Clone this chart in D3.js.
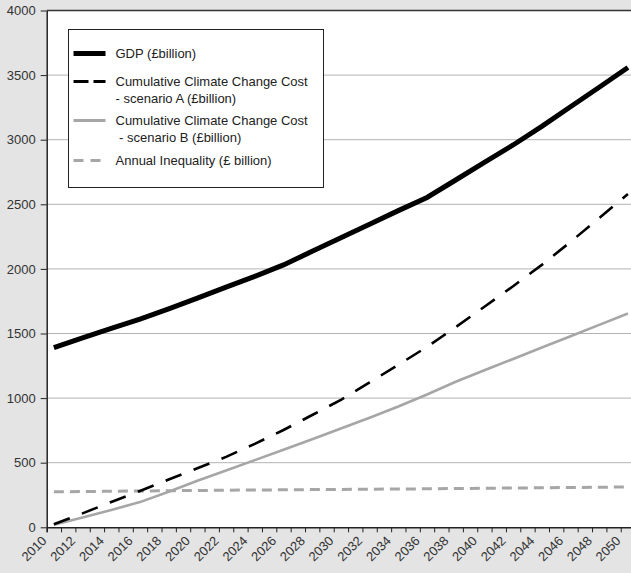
<!DOCTYPE html>
<html>
<head>
<meta charset="utf-8">
<script src="https://cdn.jsdelivr.net/npm/d3@7"></script>
<style>
  body { margin: 0; background: #e3e4e3; }
  svg { display: block; font-family: "Liberation Sans", Arial, Helvetica, sans-serif; }
  .axis text { fill: #333; font-size: 13px; }
  .axis path, .axis line { stroke: #222; }
</style>
</head>
<body>
<svg id="chart"></svg>
<script>
// values, every second year
const years = [2010, 2012, 2014, 2016, 2018, 2020, 2022, 2024, 2026, 2028, 2030,
               2032, 2034, 2036, 2038, 2040, 2042, 2044, 2046, 2048, 2050];
const gdp = [1390, 1467, 1539, 1611, 1690, 1774, 1859, 1942, 2031, 2136, 2241,
             2346, 2451, 2553, 2688, 2824, 2959, 3103, 3255, 3406, 3559];
const costA = [23, 108, 196, 281, 370, 457, 545, 646, 753, 869, 987,
               1121, 1258, 1396, 1549, 1707, 1866, 2031, 2209, 2394, 2580];
const costB = [20, 76, 134, 195, 275, 360, 440, 520, 600, 682, 765,
               848, 935, 1028, 1127, 1215, 1303, 1391, 1479, 1567, 1655];
const inequality = [275, 277, 279, 281, 283, 285, 287, 289, 290, 292, 293,
                    295, 296, 298, 300, 302, 304, 306, 308, 310, 312];
const yTicks = [0, 500, 1000, 1500, 2000, 2500, 3000, 3500, 4000];
const legendLabels = [
  ['GDP (£billion)'],
  ['Cumulative Climate Change Cost', '- scenario A (£billion)'],
  ['Cumulative Climate Change Cost', ' - scenario B (£billion)'],
  ['Annual Inequality (£ billion)']
];

const W = 631, H = 573;
const svg = d3.select('#chart').attr('width', W).attr('height', H);

const plotLeft = 46.7, plotTop = 10.5, plotBottom = 527.3;

// one band per year, points sit in the middle of the band
const x = d3.scaleLinear().domain([2010, 2051]).range([plotLeft, 635.1]);
const y = d3.scaleLinear().domain([0, 4000]).range([plotBottom, plotTop]);

// white plot area
svg.append('rect')
  .attr('x', plotLeft).attr('y', plotTop)
  .attr('width', W - plotLeft).attr('height', plotBottom - plotTop)
  .attr('fill', '#fff');

// gridlines
svg.append('g')
  .selectAll('line')
  .data(yTicks.slice(1, -1))
  .join('line')
    .attr('x1', plotLeft).attr('x2', W)
    .attr('y1', d => y(d)).attr('y2', d => y(d))
    .attr('stroke', '#b3b3b3').attr('stroke-width', 1);

// top border
svg.append('line')
  .attr('x1', plotLeft).attr('x2', W)
  .attr('y1', y(4000)).attr('y2', y(4000))
  .attr('stroke', '#333').attr('stroke-width', 1.5);

const line = d3.line()
  .x((d, i) => x(years[i] + 0.5))
  .y(d => y(d));

const series = [
  { values: gdp, color: '#000', width: 5, dash: null, legendDash: null },
  { values: costA, color: '#000', width: 2.6, dash: '17,13', legendDash: '15,5' },
  { values: costB, color: '#a6a6a6', width: 2.6, dash: null, legendDash: null },
  { values: inequality, color: '#a6a6a6', width: 3, dash: '10,6', legendDash: '10,7' }
];

// draw back to front so GDP ends on top
svg.append('g')
  .selectAll('path')
  .data(series.slice().reverse())
  .join('path')
    .attr('d', d => line(d.values))
    .attr('fill', 'none')
    .attr('stroke', d => d.color)
    .attr('stroke-width', d => d.width)
    .attr('stroke-dasharray', d => d.dash);

// axes
const xAxis = svg.append('g')
  .attr('class', 'axis x-axis')
  .attr('transform', `translate(0,${plotBottom})`)
  .call(d3.axisBottom(x)
    .tickValues(d3.range(2010, 2051))
    .tickSize(5)
    .tickFormat(d => d % 2 === 0 ? d : ''));
xAxis.select('.domain').attr('stroke-width', 1.5);
xAxis.selectAll('text')
  .attr('text-anchor', 'end')
  .attr('x', 0).attr('y', 0)
  .attr('transform', 'translate(-3,11) rotate(-45)')
  .attr('dx', 0).attr('dy', '0.35em');

const yAxis = svg.append('g')
  .attr('class', 'axis y-axis')
  .attr('transform', `translate(${plotLeft},0)`)
  .call(d3.axisLeft(y).tickValues(yTicks).tickSize(6).tickPadding(5)
    .tickSizeOuter(0).tickFormat(d3.format('d')));
yAxis.select('.domain').attr('stroke-width', 1.5);

// legend
const legend = svg.append('g').attr('transform', 'translate(68.5,29.5)');
legend.append('rect')
  .attr('width', 255).attr('height', 158)
  .attr('fill', '#fff').attr('stroke', '#222').attr('stroke-width', 1);

const rowY = [24, 52, 91, 131];
legend.selectAll('line.key')
  .data(series)
  .join('line')
    .attr('class', 'key')
    .attr('x1', 5).attr('x2', 37)
    .attr('y1', (d, i) => rowY[i]).attr('y2', (d, i) => rowY[i])
    .attr('stroke', d => d.color)
    .attr('stroke-width', d => d.width === 5 ? 5 : 3)
    .attr('stroke-dasharray', d => d.legendDash);

legend.selectAll('text.lbl')
  .data(legendLabels)
  .join('text')
    .attr('class', 'lbl')
    .attr('x', 47)
    .attr('y', (d, i) => rowY[i])
    .attr('font-size', 13)
    .attr('fill', '#222')
    .selectAll('tspan')
    .data(d => d)
    .join('tspan')
      .attr('x', 47)
      .attr('dy', (d, i) => i === 0 ? '0.35em' : '16.5')
      .attr('xml:space', 'preserve')
      .style('white-space', 'pre')
      .text(d => d);
</script>
</body>
</html>
